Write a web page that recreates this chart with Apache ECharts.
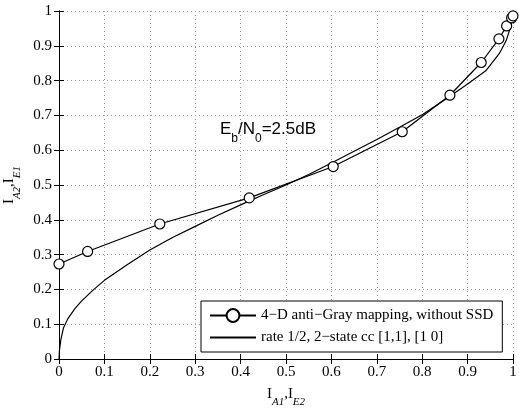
<!DOCTYPE html>
<html>
<head>
<meta charset="utf-8">
<script src="https://cdn.jsdelivr.net/npm/echarts@6/dist/echarts.min.js"></script>
<style>
    html, body { margin: 0; padding: 0; background: #fff; }
    #main { width: 519px; height: 413px; }
</style>
</head>
<body>
<div id="main"></div>
<script>
// mapping curve (with markers)
var mapX = [0, 0.063, 0.222, 0.419, 0.604, 0.756, 0.861, 0.930, 0.969, 0.986, 0.997, 1.0];
var mapY = [0.273, 0.309, 0.388, 0.463, 0.553, 0.653, 0.758, 0.852, 0.920, 0.957, 0.980, 0.986];
// code EXIT curve
var ccX = [0, 0.001, 0.004, 0.01, 0.02, 0.035, 0.05, 0.075, 0.1, 0.15, 0.2, 0.25, 0.3, 0.35, 0.4, 0.45, 0.5, 0.55, 0.6, 0.65, 0.7, 0.75, 0.8, 0.85, 0.9, 0.94, 0.97, 0.985, 0.995, 1.0];
var ccY = [0, 0.025, 0.055, 0.09, 0.117, 0.145, 0.167, 0.198, 0.226, 0.271, 0.313, 0.349, 0.381, 0.413, 0.443, 0.472, 0.5, 0.53, 0.563, 0.597, 0.631, 0.666, 0.702, 0.745, 0.79, 0.828, 0.878, 0.915, 0.955, 1.0];

var legendNames = ['4\u2212D anti\u2212Gray mapping, without SSD', 'rate 1/2, 2\u2212state cc [1,1], [1 0]'];

function pairs(xs, ys) {
    var out = [];
    for (var i = 0; i < xs.length; i++) out.push([xs[i], ys[i]]);
    return out;
}

var serif = '"Liberation Serif", "DejaVu Serif", serif';
var sans = '"Liberation Sans", Arial, sans-serif';

var myChart = echarts.init(document.getElementById('main'));

var axisCommon = {
    type: 'value',
    min: 0,
    max: 1,
    interval: 0.1,
    axisLine: { show: true, lineStyle: { color: '#000', width: 1 } },
    axisTick: { show: true, inside: true, length: 5, lineStyle: { color: '#000' } }
};

var subRich = {
    i: { fontFamily: serif, fontSize: 15, color: '#000' },
    s: { fontFamily: serif, fontSize: 11, color: '#000', fontStyle: 'italic', verticalAlign: 'bottom', padding: [0, 0, -6, 0] }
};

var option = {
    animation: false,
    backgroundColor: '#fff',
    title: {
        left: 215,
        top: 116,
        text: '{e|E}{s|b}{e|/N}{s|0}{e|=2.5dB}',
        textStyle: {
            fontWeight: 'normal',
            rich: {
                e: { fontFamily: sans, fontSize: 17, color: '#000', fontWeight: 'normal' },
                s: { fontFamily: sans, fontSize: 12, color: '#000', fontWeight: 'normal', verticalAlign: 'bottom', padding: [0, 0, -7, 0] }
            }
        }
    },
    grid: { left: 59, right: 6, top: 11, bottom: 54, outerBoundsMode: 'none' },
    legend: {
        orient: 'vertical',
        left: 201,
        top: 301,
        padding: [7, 9, 7, 8],
        itemGap: 7,
        itemWidth: 46,
        itemHeight: 16,
        borderColor: '#000',
        borderWidth: 1,
        borderRadius: 0,
        backgroundColor: '#fff',
        data: [
            { name: legendNames[0] },
            { name: legendNames[1], itemStyle: { opacity: 0 } }
        ],
        textStyle: { fontFamily: serif, fontSize: 15, color: '#000' }
    },
    xAxis: [
        Object.assign({}, axisCommon, {
            position: 'bottom',
            name: '{i|I}{s|A1}{i|,I}{s|E2}',
            nameLocation: 'middle',
            nameGap: 28,
            nameTextStyle: { rich: subRich },
            axisLabel: { fontFamily: serif, fontSize: 15, color: '#000', margin: 6 },
            splitLine: { show: true, lineStyle: { color: '#999', type: [1, 3], width: 1 } }
        }),
        Object.assign({}, axisCommon, {
            position: 'top',
            axisLabel: { show: false },
            splitLine: { show: false }
        })
    ],
    yAxis: [
        Object.assign({}, axisCommon, {
            position: 'left',
            name: '{i|I}{s|A2}{i|,I}{s|E1}',
            nameLocation: 'middle',
            nameGap: 30,
            nameTextStyle: { rich: subRich },
            axisLabel: { fontFamily: serif, fontSize: 15, color: '#000', margin: 7 },
            splitLine: { show: true, lineStyle: { color: '#999', type: [1, 3], width: 1 } }
        }),
        Object.assign({}, axisCommon, {
            position: 'right',
            axisLabel: { show: false },
            splitLine: { show: false }
        })
    ],
    series: [
        {
            name: legendNames[0],
            type: 'line',
            data: pairs(mapX, mapY),
            symbol: 'circle',
            symbolSize: 10,
            showAllSymbol: true,
            itemStyle: { color: '#fff', borderColor: '#000', borderWidth: 1.2 },
            lineStyle: { color: '#000', width: 1.2 },
            z: 3
        },
        {
            name: legendNames[1],
            type: 'line',
            data: pairs(ccX, ccY),
            symbol: 'none',
            itemStyle: { color: '#000' },
            lineStyle: { color: '#000', width: 1.2 },
            z: 2
        }
    ]
};
myChart.setOption(option);
</script>
</body>
</html>
